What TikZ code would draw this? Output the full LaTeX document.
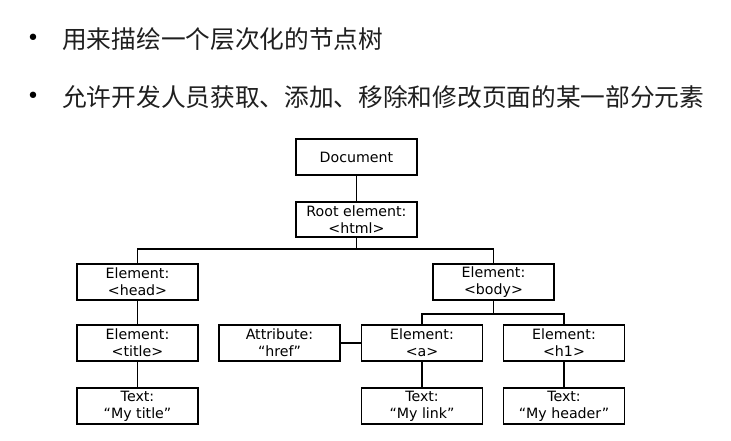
\documentclass[tikz,border=0pt]{standalone}
\usepackage{fontspec}
\setmainfont{DejaVu Sans}
\newfontfamily\cjk{Noto Sans CJK SC}
\newfontfamily\boxfont{DejaVu Sans}
\begin{document}
\begin{tikzpicture}[x=1pt,y=-1pt,
  treebox/.style={draw, line width=1.2pt, minimum width=121pt, minimum height=36pt,
    inner sep=0pt, align=center, font=\boxfont\fontsize{14.2}{17}\selectfont},
  conn/.style={line width=1.2pt},
  bulletmark/.style={inner sep=0pt, font=\boxfont\fontsize{22}{22}\selectfont},
  line/.style={anchor=west, inner sep=0pt, text=black!88, font=\cjk\fontsize{24.7}{30}\selectfont}]
\useasboundingbox[fill=white] (0,0) rectangle (731,441);
% bullets
\node[bulletmark] (b1) at (33,40) {•};
\node[line] (t1) at (62,39) {用来描绘一个层次化的节点树};
\node[bulletmark] (b2) at (33,98) {•};
\node[line] (t2) at (62,97) {允许开发人员获取、添加、移除和修改页面的某一部分元素};
% tree
\node[treebox] (doc) at (356.5,157) {Document};
\node[treebox, minimum height=35pt] (root) at (356.5,219.5) {Root element:\\<html>};
\node[treebox] (head) at (137.5,282) {Element:\\<head>};
\node[treebox] (body) at (493.5,282) {Element:\\<body>};
\node[treebox] (title) at (137.5,343) {Element:\\<title>};
\node[treebox] (attr) at (279.5,343) {Attribute:\\“href”};
\node[treebox] (a) at (422,343) {Element:\\<a>};
\node[treebox] (h1) at (564,343) {Element:\\<h1>};
\node[treebox] (ttitle) at (137.5,406) {Text:\\“My title”};
\node[treebox] (tlink) at (422,406) {Text:\\“My link”};
\node[treebox] (theader) at (564,406) {Text:\\“My header”};
% connectors
\coordinate (bus1) at (356.5,249);
\coordinate (bus2) at (493.5,314);
\draw[conn] (doc) -- (root);
\draw[conn] (root.south) -- (bus1);
\draw[conn] (head.north) |- (bus1) -| (body.north);
\draw[conn] (body.south) -- (bus2);
\draw[conn] (a.north) |- (bus2) -| (h1.north);
\draw[conn] (head) -- (title);
\draw[conn] (title) -- (ttitle);
\draw[conn] (a) -- (tlink);
\draw[conn] (h1) -- (theader);
\draw[conn] (attr) -- (a);
\end{tikzpicture}
\end{document}
